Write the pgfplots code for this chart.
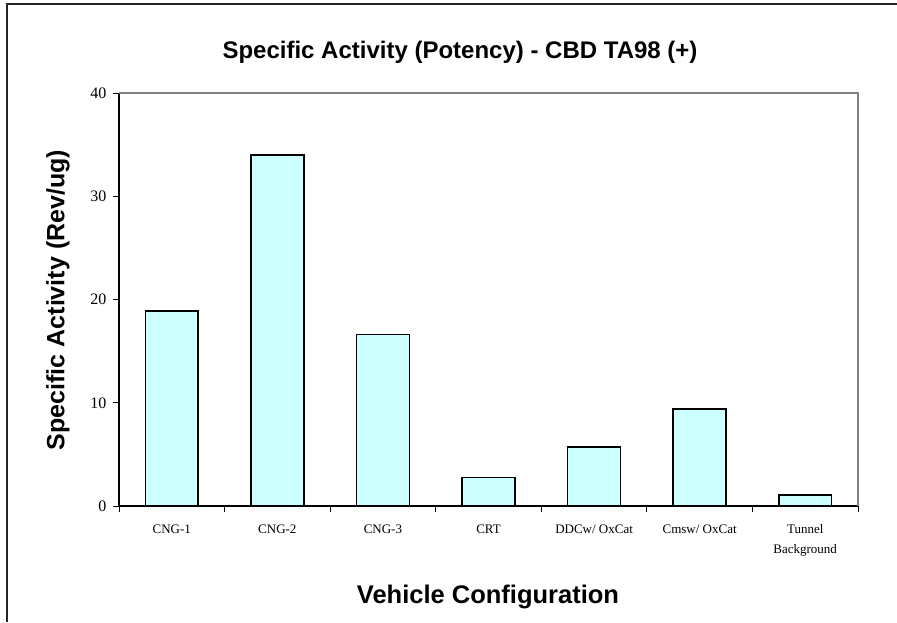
\documentclass[border=0pt]{standalone}
\usepackage{pgfplots}
\pgfplotsset{compat=1.18}
\usepackage{fontspec}
\setmainfont{Liberation Serif}
\newfontfamily\arial{Liberation Sans}
\definecolor{barfill}{HTML}{CCFFFF}
\definecolor{framegrey}{HTML}{808080}
\begin{document}
\begin{tikzpicture}[x=1pt,y=1pt]
\useasboundingbox (0,0) rectangle (897,-622);
\fill[white] (0,0) rectangle (897,-622);
\draw[line width=1.6pt, black!85] (7,-622) -- (7,-4) -- (897,-4);
\begin{axis}[
  at={(119pt,-506pt)}, anchor=south west,
  scale only axis, width=739pt, height=413pt,
  xmin=-0.5, xmax=6.5, ymin=0, ymax=40,
  ytick={0,10,20,30,40},
  xtick={0,1,2,3,4,5,6},
  xticklabels={CNG-1,CNG-2,CNG-3,CRT,DDCw/ OxCat,Cmsw/ OxCat,{Tunnel\\Background}},
  minor xtick={-0.5,0.5,...,6.5},
  axis lines=left,
  axis line style={line width=1.3pt, black, -},
  tick align=outside,
  major tick length=6pt,
  minor tick length=6pt,
  x tick style={draw=none},
  minor x tick style={draw=black, line width=1pt},
  y tick style={black, line width=1pt},
  /pgf/number format/assume math mode=true,
  tick label style={font=\fontsize{13}{20}\selectfont},
  xticklabel style={align=center, anchor=north, yshift=-9pt},
  yticklabel style={font=\fontsize{16}{18}\selectfont, xshift=-3pt},
  ybar, bar width=0.5,
  clip=false,
]
\addplot[fill=barfill, draw=black, line width=1.6pt] coordinates {
  (0,18.9) (1,34.0) (2,16.6) (3,2.78) (4,5.74) (5,9.39) (6,1.06)
};
\draw[framegrey, line width=1.4pt] (rel axis cs:0,1) -- (rel axis cs:1,1) -- (rel axis cs:1,0);
\end{axis}
\node[font=\arial\bfseries\fontsize{24}{28}\selectfont] at (460,-52) {Specific Activity (Potency) - CBD TA98 (+)};
\node[font=\arial\bfseries\fontsize{25.5}{30}\selectfont] at (488,-597) {Vehicle Configuration};
\node[font=\arial\bfseries\fontsize{25}{30}\selectfont, rotate=90] at (58,-300) {Specific Activity (Rev/ug)};
\end{tikzpicture}
\end{document}
